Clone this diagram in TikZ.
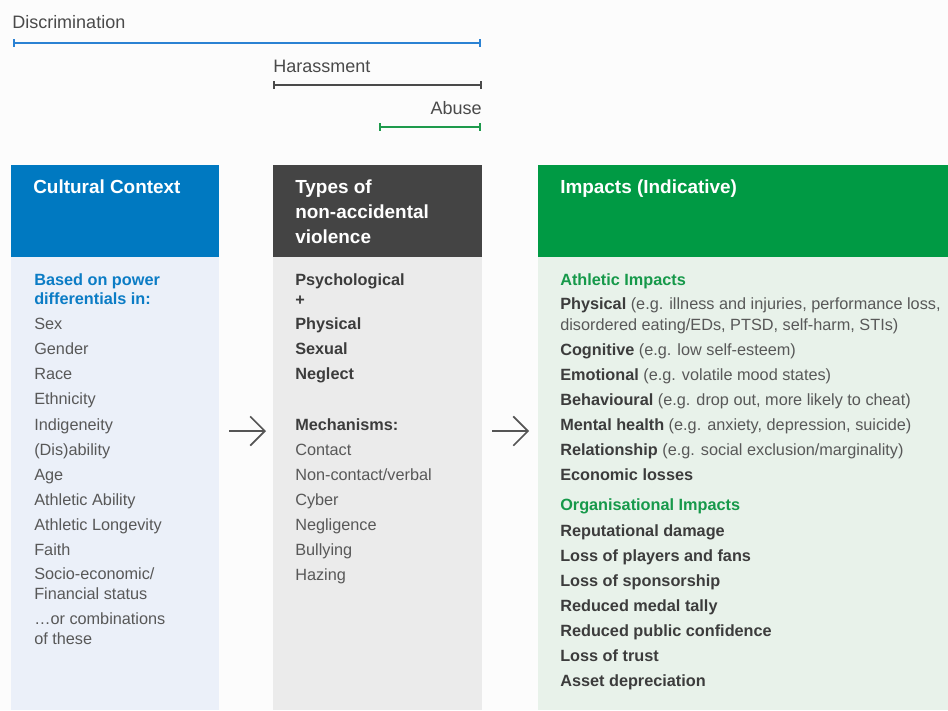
\documentclass[tikz,border=0pt]{standalone}
\usepackage{fontspec}
\setmainfont{Liberation Sans}
\usetikzlibrary{arrows.meta}
\definecolor{bgc}{HTML}{FCFCFC}
\definecolor{cblue}{HTML}{0079C1}
\definecolor{cdark}{HTML}{444444}
\definecolor{cgreen}{HTML}{009A44}
\definecolor{bblue}{HTML}{EBF0F9}
\definecolor{bgray}{HTML}{EBEBEB}
\definecolor{bgreen}{HTML}{E8F2EA}
\definecolor{tblue}{HTML}{0B7CC5}
\definecolor{tgreen}{HTML}{16994A}
\definecolor{treg}{HTML}{585858}
\definecolor{tbold}{HTML}{3C3C3C}
\definecolor{lblue}{HTML}{2B82D3}
\definecolor{ldark}{HTML}{4A4A4A}
\definecolor{lgreen}{HTML}{1E9A4C}
\definecolor{arrc}{HTML}{555555}
\begin{document}
\begin{tikzpicture}[x=0.75pt,y=-0.75pt,
  txt/.style={anchor=base west, inner sep=0pt, text=treg, font=\fontsize{12.2}{14}\selectfont},
  btxt/.style={txt, text=tbold, font=\fontsize{12.2}{14}\selectfont\bfseries},
  bluetxt/.style={txt, text=tblue, font=\fontsize{12.2}{14}\selectfont\bfseries},
  greentxt/.style={txt, text=tgreen, font=\fontsize{12.2}{14}\selectfont\bfseries},
  hdr/.style={anchor=base west, inner sep=0pt, text=white, font=\fontsize{14.2}{16}\selectfont\bfseries},
  toplbl/.style={inner sep=0pt, text=ldark, font=\fontsize{13.5}{15}\selectfont},
  span/.style={line width=1.5pt, {Bar[width=5.5pt,line width=1.5pt]}-{Bar[width=5.5pt,line width=1.5pt]}},
  flow/.style={draw=arrc, line width=1.2pt, -{Straight Barb[length=11pt,width=22pt,line width=1.2pt]}}
]
\useasboundingbox (0,0) rectangle (948,710);
\fill[bgc] (0,0) rectangle (948,710);

% spans
\node[toplbl, anchor=base west] (ldisc) at (12,29) {Discrimination};
\coordinate (d0) at (13,43); \coordinate (d1) at (481,43);
\draw[span, lblue] (d0) -- (d1);
\node[toplbl, anchor=base west] (lhar) at (273,72) {Harassment};
\coordinate (h0) at (273,85); \coordinate (h1) at (482,85);
\draw[span, ldark] (h0) -- (h1);
\node[toplbl, anchor=base east] (labu) at (482,114) {Abuse};
\coordinate (a0) at (379,127); \coordinate (a1) at (481,127);
\draw[span, lgreen] (a0) -- (a1);

% column boxes
\fill[cblue] (11,165) rectangle (219,257);
\fill[bblue] (11,257) rectangle (219,710);
\fill[cdark] (273,165) rectangle (482,257);
\fill[bgray] (273,257) rectangle (482,710);
\fill[cgreen] (538,165) rectangle (948,257);
\fill[bgreen] (538,257) rectangle (948,710);

% headers
\node[hdr] (h1a) at (33,193) {Cultural Context};
\node[hdr] (h2a) at (295,193) {Types of};
\node[hdr] (h2b) at (295,218) {non-accidental};
\node[hdr] (h2c) at (295,243) {violence};
\node[hdr] (h3a) at (560,193) {Impacts (Indicative)};

% column 1
\node[bluetxt] (c1a) at (34,285) {Based on power};
\node[bluetxt] (c1b) at (34,304) {differentials in:};
\node[txt] (c1c) at (34,329) {Sex};
\node[txt] (c1d) at (34,354) {Gender};
\node[txt] (c1e) at (34,379) {Race};
\node[txt] (c1f) at (34,404) {Ethnicity};
\node[txt] (c1g) at (34,430) {Indigeneity};
\node[txt] (c1h) at (34,455) {(Dis)ability};
\node[txt] (c1i) at (34,480) {Age};
\node[txt] (c1j) at (34,505) {Athletic Ability};
\node[txt] (c1k) at (34,530) {Athletic Longevity};
\node[txt] (c1l) at (34,555) {Faith};
\node[txt] (c1m) at (34,579) {Socio-economic/};
\node[txt] (c1n) at (34,599) {Financial status};
\node[txt] (c1o) at (34,624) {\dots or combinations};
\node[txt] (c1p) at (34,644) {of these};

% column 2
\node[btxt] (c2a) at (295,285) {Psychological};
\node[btxt] (c2b) at (295,305) {+};
\node[btxt] (c2c) at (295,329) {Physical};
\node[btxt] (c2d) at (295,354) {Sexual};
\node[btxt] (c2e) at (295,379) {Neglect};
\node[btxt] (c2f) at (295,430) {Mechanisms:};
\node[txt] (c2g) at (295,455) {Contact};
\node[txt] (c2h) at (295,480) {Non-contact/verbal};
\node[txt] (c2i) at (295,505) {Cyber};
\node[txt] (c2j) at (295,530) {Negligence};
\node[txt] (c2k) at (295,555) {Bullying};
\node[txt] (c2l) at (295,580) {Hazing};

% column 3
\newcommand{\bw}[1]{{\bfseries\color{tbold}#1}}
\node[greentxt] (c3a) at (560,285) {Athletic Impacts};
\node[txt] (c3b) at (560,309) {\bw{Physical} (e.g. illness and injuries, performance loss,};
\node[txt] (c3c) at (560,330) {disordered eating/EDs, PTSD, self-harm, STIs)};
\node[txt] (c3d) at (560,355) {\bw{Cognitive} (e.g. low self-esteem)};
\node[txt] (c3e) at (560,380) {\bw{Emotional} (e.g. volatile mood states)};
\node[txt] (c3f) at (560,405) {\bw{Behavioural} (e.g. drop out, more likely to cheat)};
\node[txt] (c3g) at (560,430) {\bw{Mental health} (e.g. anxiety, depression, suicide)};
\node[txt] (c3h) at (560,455) {\bw{Relationship} (e.g. social exclusion/marginality)};
\node[btxt] (c3i) at (560,480) {Economic losses};
\node[greentxt] (c3j) at (560,510) {Organisational Impacts};
\node[btxt] (c3k) at (560,536) {Reputational damage};
\node[btxt] (c3l) at (560,561) {Loss of players and fans};
\node[btxt] (c3m) at (560,586) {Loss of sponsorship};
\node[btxt] (c3n) at (560,611) {Reduced medal tally};
\node[btxt] (c3o) at (560,636) {Reduced public confidence};
\node[btxt] (c3p) at (560,661) {Loss of trust};
\node[btxt] (c3q) at (560,686) {Asset depreciation};

% arrows
\coordinate (f1s) at (229,431); \coordinate (f1e) at (266,431);
\coordinate (f2s) at (492,431); \coordinate (f2e) at (529,431);
\draw[flow] (f1s) -- (f1e);
\draw[flow] (f2s) -- (f2e);
\end{tikzpicture}
\end{document}
